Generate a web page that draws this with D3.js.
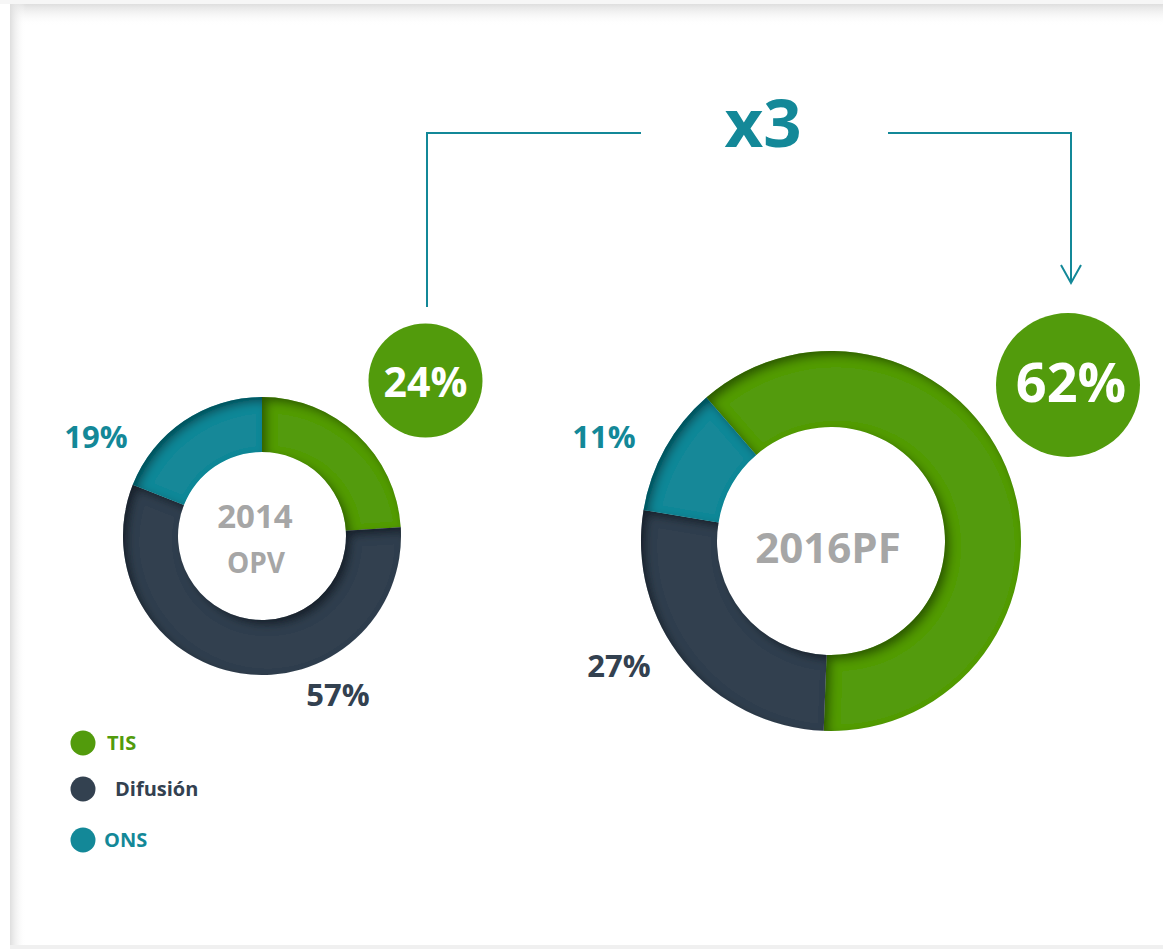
<!DOCTYPE html>
<html>
<head>
    <meta charset="utf-8">
    <title>TIS x3</title>
    <script src="https://cdn.jsdelivr.net/npm/d3@7"></script>
    <style>
        body { margin: 0; background: #fff; }
        text { font-family: "Open Sans", sans-serif; font-weight: bold; }
    </style>
</head>
<body>
<div id="chartContainer"></div>
<script type="text/javascript">
// data
var categories = ["TIS", "Difusión", "ONS"];
var values2014 = [24, 57, 19];
var values2016 = [62, 27, 11];
var colors = ["#529b0c", "#334150", "#138898"];
var multiplier = "x3";

var width = 1163, height = 949;
var svg = d3.select("#chartContainer").append("svg")
    .attr("width", width)
    .attr("height", height);

var defs = svg.append("defs");

// inner shadow used on the slices
var f = defs.append("filter").attr("id", "inner")
    .attr("x", "-20%").attr("y", "-20%").attr("width", "140%").attr("height", "140%");
f.append("feComponentTransfer").attr("in", "SourceAlpha").attr("result", "inv")
    .append("feFuncA").attr("type", "table").attr("tableValues", "1 0");
f.append("feGaussianBlur").attr("in", "inv").attr("stdDeviation", 5).attr("result", "blur");
f.append("feOffset").attr("in", "blur").attr("dx", 5).attr("dy", 5).attr("result", "off");
f.append("feFlood").attr("flood-color", "#000").attr("flood-opacity", 0.7).attr("result", "col");
f.append("feComposite").attr("in", "col").attr("in2", "off").attr("operator", "in").attr("result", "sh");
f.append("feComposite").attr("in", "sh").attr("in2", "SourceAlpha").attr("operator", "in").attr("result", "sh2");
var fm = f.append("feMerge");
fm.append("feMergeNode").attr("in", "SourceGraphic");
fm.append("feMergeNode").attr("in", "sh2");

// panel shading (top and left)
var gTop = defs.append("linearGradient").attr("id", "gTop").attr("x1", 0).attr("y1", 0).attr("x2", 0).attr("y2", 1);
gTop.append("stop").attr("offset", "0%").attr("stop-color", "#dedede");
gTop.append("stop").attr("offset", "100%").attr("stop-color", "#fff").attr("stop-opacity", 0);
var gLeft = defs.append("linearGradient").attr("id", "gLeft").attr("x1", 0).attr("y1", 0).attr("x2", 1).attr("y2", 0);
gLeft.append("stop").attr("offset", "0%").attr("stop-color", "#dedede");
gLeft.append("stop").attr("offset", "100%").attr("stop-color", "#fff").attr("stop-opacity", 0);

svg.append("rect").attr("x", 0).attr("y", 0).attr("width", width).attr("height", 4).attr("fill", "#f6f6f6");
svg.append("rect").attr("x", 10).attr("y", 4).attr("width", width - 10).attr("height", 22).attr("fill", "url(#gTop)");
svg.append("rect").attr("x", 10).attr("y", 4).attr("width", 16).attr("height", 942).attr("fill", "url(#gLeft)");
svg.append("rect").attr("x", 10).attr("y", 945).attr("width", width - 10).attr("height", 4).attr("fill", "#f0f0f0");

// donuts
function donut(values, cx, cy, rIn, rOut, start) {
    var pie = d3.pie().sort(null)
        .startAngle(start)
        .endAngle(start + 2 * Math.PI);
    var arc = d3.arc().innerRadius(rIn).outerRadius(rOut);
    var g = svg.append("g").attr("transform", "translate(" + cx + "," + cy + ")");
    g.selectAll("path")
        .data(pie(values))
        .enter()
        .append("path")
        .attr("d", arc)
        .attr("fill", function (d, i) { return colors[i]; })
        .attr("filter", "url(#inner)");
    return g;
}

var d1 = donut(values2014, 262, 536, 84, 139, 0);
var d2 = donut(values2016, 831, 541, 114, 190, -41 * Math.PI / 180);

function label(x, y, txt, size, color, anchor) {
    svg.append("text")
        .attr("x", x)
        .attr("y", y)
        .attr("text-anchor", anchor || "middle")
        .style("font-size", size + "px")
        .style("fill", color)
        .text(txt);
}

// center titles
label(255, 528, "2014", 33, "#a6a6a6");
label(256, 573, "OPV", 28, "#a6a6a6");
label(828, 563, "2016PF", 42, "#a6a6a6");

// slice labels
label(96, 448, values2014[2] + "%", 31, colors[2]);
label(338, 706, values2014[1] + "%", 31, colors[1]);
label(604, 448, values2016[2] + "%", 31, colors[2]);
label(619, 677, values2016[1] + "%", 31, colors[1]);

// TIS callouts
svg.append("circle").attr("cx", 425.5).attr("cy", 380.5).attr("r", 57).attr("fill", colors[0]);
label(425.5, 397, values2014[0] + "%", 41, "#fff");
svg.append("circle").attr("cx", 1068).attr("cy", 385).attr("r", 72).attr("fill", colors[0]);
label(1071, 402, values2016[0] + "%", 54, "#fff");

// growth bracket
var teal = colors[2];
svg.append("polyline")
    .attr("points", "427,307 427,133 641,133")
    .attr("fill", "none").attr("stroke", teal).attr("stroke-width", 2);
svg.append("polyline")
    .attr("points", "888,133 1071,133 1071,282")
    .attr("fill", "none").attr("stroke", teal).attr("stroke-width", 2);
svg.append("polyline")
    .attr("points", "1061,265 1071,283 1081,265")
    .attr("fill", "none").attr("stroke", teal).attr("stroke-width", 2);
label(763, 147, multiplier, 67, teal);

// legend
var legendY = [743, 789, 840];
var legendX = [107, 115, 104];
var leg = svg.selectAll("g.leg")
    .data(categories)
    .enter()
    .append("g")
    .attr("class", "leg");
leg.append("circle")
    .attr("cx", 83)
    .attr("cy", function (d, i) { return legendY[i]; })
    .attr("r", 12.5)
    .attr("fill", function (d, i) { return colors[i]; });
leg.append("text")
    .attr("x", function (d, i) { return legendX[i]; })
    .attr("y", function (d, i) { return legendY[i] + 7; })
    .style("font-size", "20px")
    .style("fill", function (d, i) { return colors[i]; })
    .text(function (d) { return d; });
</script>
</body>
</html>
